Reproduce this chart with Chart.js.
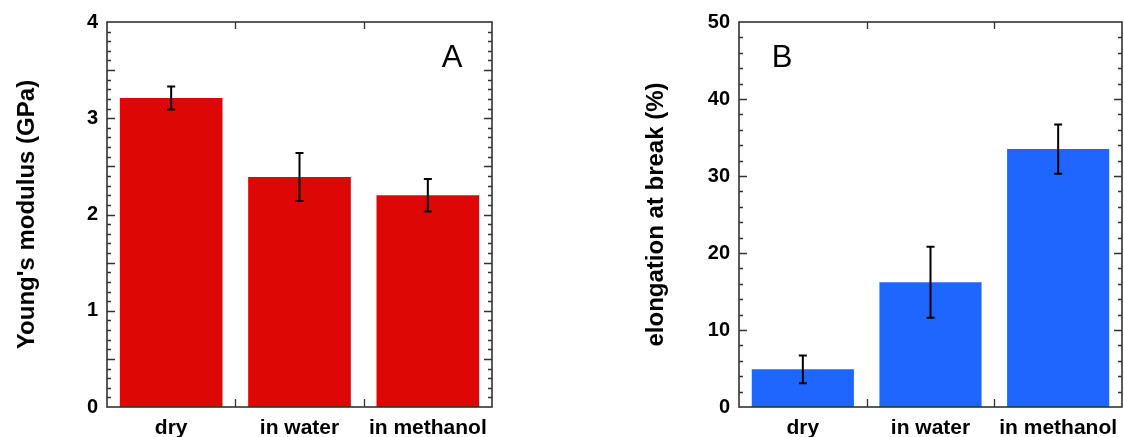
<!DOCTYPE html>
<html>
<head>
<meta charset="utf-8">
<script src="https://cdn.jsdelivr.net/npm/chart.js@4.4.1/dist/chart.umd.min.js"></script>
<style>
  html,body{margin:0;padding:0;background:#fff;}
  #wrap{position:relative;width:1124px;height:437px;overflow:hidden;}
  canvas{position:absolute;top:0;}
  #cA{left:0;}
  #cB{left:629px;}
</style>
</head>
<body>
<div id="wrap">
  <canvas id="cA" width="520" height="437"></canvas>
  <canvas id="cB" width="495" height="437"></canvas>
</div>
<script>
// categories and values
const conditions = ['dry', 'in water', 'in methanol'];
const modulus    = [3.21, 2.39, 2.20];   // GPa
const modulusErr = [0.12, 0.25, 0.17];
const elongation    = [4.9, 16.2, 33.5]; // %
const elongationErr = [1.8, 4.6, 3.2];

const FONT = "'Liberation Sans', Arial, Helvetica, sans-serif";
const RED = '#dd0806';
const BLUE = '#1e66ff';

// error bars, frame, inward ticks and panel letter
const panelDeco = {
  id: 'panelDeco',
  afterDatasetsDraw(chart, args, o) {
    const ctx = chart.ctx, a = chart.chartArea;
    const xs = chart.scales.x, ys = chart.scales.y;
    const meta = chart.getDatasetMeta(0);
    ctx.save();

    // error bars
    ctx.strokeStyle = '#000';
    ctx.lineWidth = 2;
    meta.data.forEach((bar, i) => {
      const v = chart.data.datasets[0].data[i], e = o.err[i];
      const y1 = ys.getPixelForValue(v + e), y2 = ys.getPixelForValue(v - e);
      ctx.beginPath();
      ctx.moveTo(bar.x, y1); ctx.lineTo(bar.x, y2);
      ctx.moveTo(bar.x - 4, y1); ctx.lineTo(bar.x + 4, y1);
      ctx.moveTo(bar.x - 4, y2); ctx.lineTo(bar.x + 4, y2);
      ctx.stroke();
    });

    // y ticks on both sides, pointing in
    ctx.strokeStyle = '#333';
    ctx.lineWidth = 1.3;
    const n = Math.round((ys.max - ys.min) / o.minor);
    ctx.beginPath();
    for (let k = 1; k < n; k++) {
      const v = ys.min + k * o.minor;
      const y = Math.round(ys.getPixelForValue(v)) + 0.5;
      const isMajor = Math.abs(v / o.major - Math.round(v / o.major)) < 1e-6;
      const len = isMajor ? 8 : 4;
      ctx.moveTo(a.left, y); ctx.lineTo(a.left + len, y);
      ctx.moveTo(a.right, y); ctx.lineTo(a.right - len, y);
    }
    // x ticks at category boundaries, top and bottom
    for (let i = 0; i < conditions.length - 1; i++) {
      const x = Math.round(xs.getPixelForValue(i + 0.5)) + 0.5;
      ctx.moveTo(x, a.top); ctx.lineTo(x, a.top + 7);
      ctx.moveTo(x, a.bottom); ctx.lineTo(x, a.bottom - 8);
    }
    ctx.stroke();

    // frame
    ctx.lineWidth = 1.6;
    ctx.strokeRect(a.left, a.top, a.right - a.left, a.bottom - a.top);

    // panel letter
    ctx.fillStyle = '#000';
    ctx.font = '31px ' + FONT;
    ctx.textAlign = 'center';
    ctx.textBaseline = 'alphabetic';
    const lx = o.side === 'right' ? a.right - 40 : a.left + 43;
    ctx.fillText(o.letter, lx, a.top + 45);
    ctx.restore();
  }
};

function makePanel(id, values, errs, color, yMax, minor, major, title, letter, side, yWidth, padRight) {
  return new Chart(document.getElementById(id), {
    type: 'bar',
    data: {
      labels: conditions,
      datasets: [{
        data: values,
        backgroundColor: color,
        borderWidth: 0,
        barPercentage: 0.8,
        categoryPercentage: 1.0
      }]
    },
    options: {
      responsive: false,
      animation: false,
      devicePixelRatio: 1,
      layout: { padding: { top: 22, right: padRight, left: 0, bottom: 0 } },
      plugins: {
        legend: { display: false },
        tooltip: { enabled: false },
        panelDeco: { err: errs, minor: minor, major: major, letter: letter, side: side }
      },
      scales: {
        x: {
          grid: { display: false, drawTicks: false },
          border: { display: false },
          ticks: { color: '#000', font: { family: FONT, size: 21, weight: 'bold' }, padding: 9, maxRotation: 0, autoSkip: false },
          afterFit(s) { s.height = 30; s.paddingLeft = 0; s.paddingRight = 0; }
        },
        y: {
          min: 0, max: yMax,
          grid: { display: false, drawTicks: false },
          border: { display: false },
          ticks: { stepSize: major * (yMax > 10 ? 1 : 2), color: '#000', font: { family: FONT, size: 20, weight: 'bold' }, padding: 9 },
          title: { display: true, text: title, color: '#000', font: { family: FONT, size: 24, weight: 'bold' }, padding: { top: 13, bottom: 0 } },
          afterFit(s) { s.width = yWidth; }
        }
      }
    },
    plugins: [panelDeco]
  });
}

makePanel('cA', modulus, modulusErr, RED, 4, 0.1, 0.5, "Young's modulus (GPa)", 'A', 'right', 107, 28);
makePanel('cB', elongation, elongationErr, BLUE, 50, 2, 10, 'elongation at break (%)', 'B', 'left', 110, 2);
</script>
</body>
</html>
